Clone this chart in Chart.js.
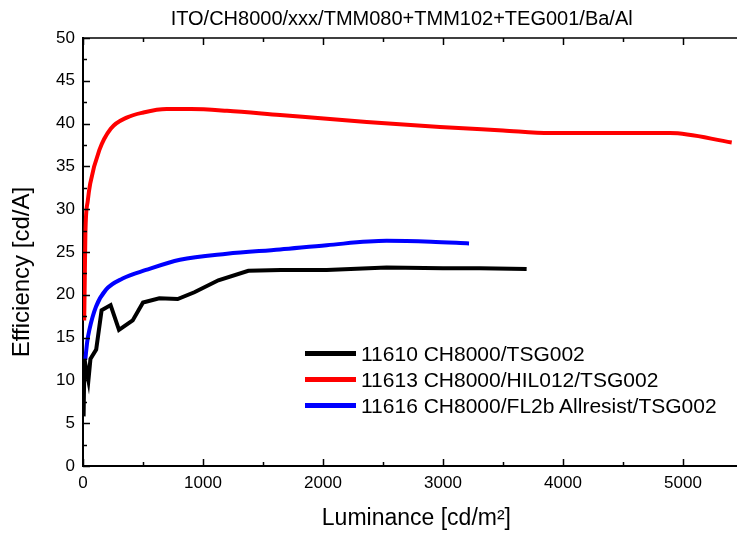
<!DOCTYPE html>
<html>
<head>
<meta charset="utf-8">
<script src="https://cdn.jsdelivr.net/npm/chart.js@4/dist/chart.umd.min.js"></script>
<style>
  html, body { margin: 0; padding: 0; background: #fff; }
  #wrap { position: relative; width: 737px; height: 533px; }
  #legend { position: absolute; left: 305px; top: 341px; font-family: "Liberation Sans", Arial, sans-serif; font-size: 21px; color: #000; }
  #legend div { height: 26px; line-height: 26px; white-space: nowrap; }
  #legend span.line { display: inline-block; width: 51px; height: 5px; vertical-align: middle; margin-right: 5px; position: relative; top: -2px; }
</style>
</head>
<body>
<div id="wrap">
  <canvas id="chart" width="737" height="533"></canvas>
  <div id="legend"></div>
</div>
<script>
// Data (luminance cd/m², efficiency cd/A)
const lumBlack = [5, 12, 45, 62, 110, 155, 230, 300, 414, 500, 636, 789, 928, 1128, 1378, 1650, 2031, 2530, 3000, 3308, 3697];
const effBlack = [5.8, 12.5, 10.0, 12.5, 13.6, 18.2, 18.8, 15.9, 17.0, 19.1, 19.6, 19.5, 20.3, 21.7, 22.8, 22.9, 22.9, 23.2, 23.1, 23.1, 23.0];

const lumRed = [10, 15, 20, 40, 60, 136, 231, 364, 503, 697, 900, 1200, 1642, 2364, 2975, 3500, 3892, 4892, 5406];
const effRed = [17.0, 22.0, 27.2, 31.0, 33.0, 36.9, 39.4, 40.7, 41.3, 41.7, 41.7, 41.5, 41.0, 40.2, 39.6, 39.2, 38.9, 38.9, 37.8];

const lumBlue = [19, 35, 53, 108, 192, 330, 525, 808, 1200, 1642, 2031, 2530, 2900, 3217];
const effBlue = [12.4, 14.5, 15.9, 18.6, 20.6, 21.9, 22.9, 24.1, 24.8, 25.3, 25.8, 26.3, 26.2, 26.0];

const xTicks = [0, 1000, 2000, 3000, 4000, 5000];
const yTicks = [0, 5, 10, 15, 20, 25, 30, 35, 40, 45, 50];

const seriesLabels = ['11610 CH8000/TSG002', '11613 CH8000/HIL012/TSG002', '11616 CH8000/FL2b Allresist/TSG002'];
const chartTitle = 'ITO/CH8000/xxx/TMM080+TMM102+TEG001/Ba/Al';
const xTitle = 'Luminance [cd/m²]';
const yTitle = 'Efficiency [cd/A]';

const pts = (xs, ys) => xs.map((v, i) => ({ x: v, y: ys[i] }));
const FONT = '"Liberation Sans", Arial, sans-serif';
const NB = '\u00a0';

// inward ticks (major + minor halfway) and the top frame line
const innerTicks = {
  id: 'innerTicks',
  afterDraw(chart) {
    const { ctx, chartArea: a, scales: { x, y } } = chart;
    ctx.save();
    ctx.strokeStyle = '#000';
    ctx.lineWidth = 1.5;
    ctx.beginPath();
    ctx.moveTo(a.left, a.top);
    ctx.lineTo(a.right, a.top);
    const xHalf = (xTicks[1] - xTicks[0]) / 2;
    xTicks.forEach(t => {
      [[t, 7], [t + xHalf, 4]].forEach(([v, len]) => {
        if (v > x.max) return;
        const px = Math.round(x.getPixelForValue(v)) + 0.5;
        ctx.moveTo(px, a.bottom); ctx.lineTo(px, a.bottom - len);
        ctx.moveTo(px, a.top); ctx.lineTo(px, a.top + len);
      });
    });
    const yHalf = (yTicks[1] - yTicks[0]) / 2;
    yTicks.forEach(t => {
      [[t, 7], [t + yHalf, 4]].forEach(([v, len]) => {
        if (v > y.max) return;
        const py = Math.round(y.getPixelForValue(v)) + 0.5;
        ctx.moveTo(a.left, py); ctx.lineTo(a.left + len, py);
      });
    });
    ctx.stroke();
    ctx.restore();
  }
};

const chart = new Chart(document.getElementById('chart').getContext('2d'), {
  type: 'line',
  data: {
    datasets: [
      { label: seriesLabels[0], data: pts(lumBlack, effBlack), borderColor: '#000000', borderWidth: 4, tension: 0 },
      { label: seriesLabels[1], data: pts(lumRed, effRed), borderColor: '#ff0000', borderWidth: 4, cubicInterpolationMode: 'monotone' },
      { label: seriesLabels[2], data: pts(lumBlue, effBlue), borderColor: '#0000ff', borderWidth: 4, cubicInterpolationMode: 'monotone' }
    ]
  },
  options: {
    responsive: false,
    animation: false,
    layout: { padding: 0 },
    elements: { point: { radius: 0 } },
    plugins: {
      legend: { display: false },
      tooltip: { enabled: false },
      title: {
        display: true,
        text: chartTitle + NB.repeat(3),
        fullSize: false,
        color: '#000',
        font: { family: FONT, size: 20, weight: 'normal' },
        padding: { top: 7, bottom: 7 }
      }
    },
    scales: {
      x: {
        type: 'linear',
        min: 0,
        max: 5450,
        grid: { display: false, drawTicks: false },
        border: { display: true, color: '#000', width: 2 },
        afterBuildTicks: s => { s.ticks = xTicks.map(v => ({ value: v })); },
        ticks: {
          padding: 7,
          color: '#000',
          font: { family: FONT, size: 17 },
          maxRotation: 0,
          autoSkip: false,
          callback: v => String(v)
        },
        title: {
          display: true,
          text: NB + NB + xTitle,
          color: '#000',
          font: { family: FONT, size: 23 },
          padding: { top: 1, bottom: 1 }
        },
        afterFit: s => { s.height = 67; }
      },
      y: {
        min: 0,
        max: 50,
        grid: { display: false, drawTicks: false },
        border: { display: true, color: '#000', width: 2 },
        afterBuildTicks: s => { s.ticks = yTicks.map(v => ({ value: v })); },
        ticks: {
          padding: 8,
          color: '#000',
          font: { family: FONT, size: 17 },
          autoSkip: false,
          callback: v => String(v)
        },
        title: {
          display: true,
          text: yTitle + NB.repeat(6),
          color: '#000',
          font: { family: FONT, size: 24 },
          padding: { top: 8, bottom: 2 }
        },
        afterFit: s => { s.width = 83; }
      }
    }
  },
  plugins: [innerTicks]
});

// legend inside the plot, built from the datasets
const legendEl = document.getElementById('legend');
chart.data.datasets.forEach(ds => {
  const row = document.createElement('div');
  const line = document.createElement('span');
  line.className = 'line';
  line.style.background = ds.borderColor;
  row.appendChild(line);
  row.appendChild(document.createTextNode(ds.label));
  legendEl.appendChild(row);
});
</script>
</body>
</html>
